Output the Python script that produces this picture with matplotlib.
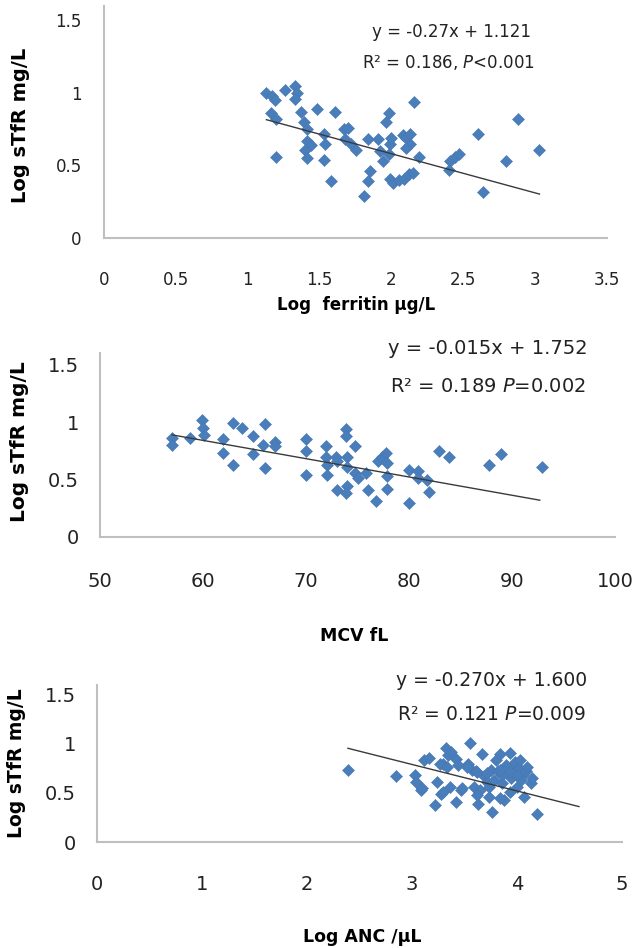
import matplotlib
matplotlib.use("Agg")
import matplotlib.pyplot as plt

plt.rcParams['font.family'] = ['DejaVu Sans']
plt.rcParams['mathtext.fontset'] = 'custom'
plt.rcParams['mathtext.rm'] = 'DejaVu Sans'
plt.rcParams['mathtext.it'] = 'DejaVu Sans:italic'

# ---------------- data ----------------
# Panel 1: Log ferritin vs Log sTfR
ferritin_x = [1.13, 1.17, 1.19, 1.16, 1.20, 1.20, 1.26, 1.33, 1.34, 1.33, 1.37, 1.39,
              1.41, 1.41, 1.40, 1.41, 1.48, 1.44, 1.53, 1.54, 1.53, 1.61, 1.58, 1.67,
              1.68, 1.70, 1.72, 1.75, 1.84, 1.85, 1.84, 1.81, 1.91, 1.92, 1.94, 1.98,
              1.96, 1.99, 2.00, 1.98, 1.99, 2.01, 2.05, 2.09, 2.12, 2.15, 2.08, 2.10,
              2.13, 2.13, 2.10, 2.16, 2.19, 2.40, 2.41, 2.44, 2.47, 2.60, 2.64, 2.80,
              2.88, 3.03]
ferritin_y = [1.00, 0.98, 0.95, 0.86, 0.82, 0.56, 1.02, 1.05, 1.00, 0.96, 0.87, 0.80,
              0.75, 0.67, 0.61, 0.55, 0.89, 0.64, 0.72, 0.65, 0.54, 0.87, 0.39, 0.75,
              0.68, 0.76, 0.65, 0.61, 0.68, 0.46, 0.39, 0.29, 0.68, 0.60, 0.53, 0.86,
              0.80, 0.65, 0.69, 0.58, 0.41, 0.38, 0.40, 0.41, 0.44, 0.45, 0.71, 0.69,
              0.72, 0.65, 0.62, 0.94, 0.56, 0.47, 0.53, 0.56, 0.58, 0.72, 0.32, 0.53,
              0.82, 0.61]
ferritin_line_x = [1.13, 3.03]
ferritin_line_y = [0.816, 0.303]

# Panel 2: MCV vs Log sTfR
mcv_x = [57.0, 57.0, 58.7, 59.9, 60.0, 60.1, 61.9, 61.9, 62.9, 63.8, 62.9, 64.9,
         64.9, 66.0, 65.8, 66.0, 67.0, 67.0, 70.0, 70.0, 70.0, 71.9, 71.9, 72.0,
         72.0, 72.9, 73.0, 73.0, 73.9, 73.9, 74.0, 74.0, 74.0, 73.9, 74.8, 74.8,
         75.0, 75.8, 76.0, 76.8, 77.0, 77.4, 77.8, 77.9, 77.9, 77.9, 80.0, 80.0,
         80.9, 80.9, 81.7, 81.9, 82.9, 83.9, 87.8, 88.9, 92.9]
mcv_y = [0.86, 0.80, 0.86, 1.02, 0.95, 0.89, 0.85, 0.73, 0.99, 0.95, 0.63, 0.88,
         0.72, 0.98, 0.80, 0.60, 0.83, 0.79, 0.85, 0.75, 0.54, 0.79, 0.70, 0.63,
         0.54, 0.70, 0.66, 0.41, 0.94, 0.88, 0.70, 0.61, 0.44, 0.38, 0.79, 0.56,
         0.51, 0.56, 0.41, 0.31, 0.66, 0.70, 0.73, 0.64, 0.53, 0.42, 0.58, 0.30,
         0.57, 0.51, 0.50, 0.39, 0.75, 0.70, 0.63, 0.72, 0.61]
mcv_line_x = [57.0, 92.7]
mcv_line_y = [0.888, 0.32]

# Panel 3: Log ANC vs Log sTfR
anc_x = [2.39, 2.85, 3.03, 3.04, 3.09, 3.11, 3.16, 3.22, 3.24, 3.28, 3.30, 3.32,
         3.34, 3.36, 3.37, 3.42, 3.42, 3.44, 3.47, 3.55, 3.53, 3.57, 3.59, 3.61,
         3.63, 3.65, 3.67, 3.69, 3.71, 3.73, 3.75, 3.76, 3.78, 3.80, 3.82, 3.84,
         3.86, 3.88, 3.90, 3.92, 3.94, 3.96, 3.98, 4.00, 4.02, 4.05, 4.07, 4.09,
         4.13, 4.19, 3.86, 3.73, 4.04,
         3.52, 3.62, 3.71, 3.84, 3.93, 4.00, 3.27, 3.33, 3.93, 4.03, 4.10, 4.14,
         3.48, 3.62, 3.84, 3.93, 3.10, 3.30]
anc_y = [0.73, 0.67, 0.68, 0.61, 0.53, 0.84, 0.86, 0.38, 0.61, 0.49, 0.80, 0.96,
         0.89, 0.56, 0.92, 0.85, 0.41, 0.78, 0.53, 1.01, 0.80, 0.73, 0.56, 0.72,
         0.39, 0.53, 0.90, 0.67, 0.61, 0.46, 0.73, 0.31, 0.63, 0.84, 0.72, 0.90,
         0.60, 0.43, 0.78, 0.70, 0.65, 0.73, 0.82, 0.56, 0.75, 0.68, 0.46, 0.72,
         0.60, 0.29, 0.68, 0.56, 0.63,
         0.76, 0.71, 0.70, 0.73, 0.71, 0.68, 0.79, 0.76, 0.91, 0.84, 0.76, 0.65,
         0.55, 0.48, 0.45, 0.51, 0.55, 0.51]
anc_line_x = [2.39, 4.59]
anc_line_y = [0.955, 0.361]

y_ticks = [0, 0.5, 1, 1.5]
y_ticklabels = ['0', '0.5', '1', '1.5']
x1_ticks = [0, 0.5, 1, 1.5, 2, 2.5, 3, 3.5]
x1_ticklabels = ['0', '0.5', '1', '1.5', '2', '2.5', '3', '3.5']
x2_ticks = [50, 60, 70, 80, 90, 100]
x2_ticklabels = ['50', '60', '70', '80', '90', '100']
x3_ticks = [0, 1, 2, 3, 4, 5]
x3_ticklabels = ['0', '1', '2', '3', '4', '5']

eq1 = ["y = -0.27x + 1.121", "R\u00b2 = 0.186, $P$<0.001"]
eq2 = ["y = -0.015x + 1.752", "R\u00b2 = 0.189 $P$=0.002"]
eq3 = ["y = -0.270x + 1.600", "R\u00b2 = 0.121 $P$=0.009"]

ylabel = "Log sTfR mg/L"
xlabel1 = "Log  ferritin \u03bcg/L"
xlabel2 = "MCV fL"
xlabel3 = "Log ANC /\u03bcL"

# ---------------- drawing ----------------
W, H = 634, 948
fig = plt.figure(figsize=(W / 100, H / 100), dpi=100)

MARK = '#4a7ebb'
SPINE = '#bfbfbf'


def px_axes(left, right, top, bottom):
    return fig.add_axes([left / W, 1 - bottom / H, (right - left) / W, (bottom - top) / H])


def setup(ax, xs, ys, lx, ly, xlim, xt, xtl, fs, xpad, ypad):
    ax.plot(xs, ys, linestyle='none', marker='D', markersize=6.6, color=MARK,
            markeredgecolor='#4577b3', markeredgewidth=0.4, zorder=3)
    ax.plot(lx, ly, color='#3a3a3a', linewidth=1.0, zorder=4)
    ax.set_xlim(*xlim)
    ax.set_ylim(0, 1.6)
    ax.set_xticks(xt)
    ax.set_xticklabels(xtl)
    ax.set_yticks(y_ticks)
    ax.set_yticklabels(y_ticklabels)
    for s in ['top', 'right']:
        ax.spines[s].set_visible(False)
    for s in ['left', 'bottom']:
        ax.spines[s].set_color(SPINE)
        ax.spines[s].set_linewidth(1.5)
    ax.tick_params(axis='x', length=0, pad=xpad, labelsize=fs, labelcolor='#222222')
    ax.tick_params(axis='y', length=0, pad=ypad, labelsize=fs, labelcolor='#222222')
    ax.patch.set_alpha(0)


def ftext(x, y, s, **kw):
    fig.text(x / W, 1 - y / H, s, **kw)


# Panel 1
ax1 = px_axes(104, 607, 6, 238)
setup(ax1, ferritin_x, ferritin_y, ferritin_line_x, ferritin_line_y,
      (0, 3.5), x1_ticks, x1_ticklabels, 12, 24, 16)
ftext(451, 32, eq1[0], ha='center', va='center', fontsize=12, color='#222222')
ftext(448, 62, eq1[1], ha='center', va='center', fontsize=12, color='#222222')
ftext(356, 305, xlabel1, ha='center', va='center', fontsize=12, fontweight='bold')
ftext(21, 125, ylabel, ha='center', va='center', rotation=90, fontsize=14, fontweight='bold')

# Panel 2
ax2 = px_axes(100, 615, 353, 537)
setup(ax2, mcv_x, mcv_y, mcv_line_x, mcv_line_y,
      (50, 100), x2_ticks, x2_ticklabels, 14, 25, 15)
ftext(488, 348, eq2[0], ha='center', va='center', fontsize=14, color='#222222')
ftext(488, 387, eq2[1], ha='center', va='center', fontsize=14, color='#222222')
ftext(354, 636, xlabel2, ha='center', va='center', fontsize=12.5, fontweight='bold')
ftext(20, 442, ylabel, ha='center', va='center', rotation=90, fontsize=14.5, fontweight='bold')

# Panel 3
ax3 = px_axes(97, 622, 685, 842)
setup(ax3, anc_x, anc_y, anc_line_x, anc_line_y,
      (0, 5), x3_ticks, x3_ticklabels, 14, 24, 15)
ftext(492, 680, eq3[0], ha='center', va='center', fontsize=13.5, color='#222222')
ftext(492, 715, eq3[1], ha='center', va='center', fontsize=13.5, color='#222222')
ftext(362, 937, xlabel3, ha='center', va='center', fontsize=12.5, fontweight='bold')
ftext(17, 763, ylabel, ha='center', va='center', rotation=90, fontsize=13.5, fontweight='bold')

fig.savefig('out.png', dpi=100, facecolor='white')
